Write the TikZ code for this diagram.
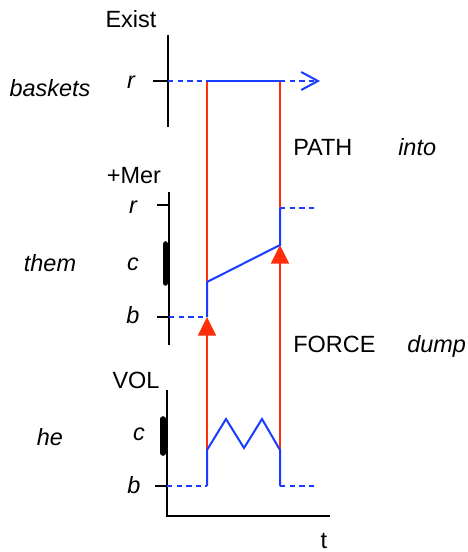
\documentclass[tikz,border=0pt]{standalone}
\usepackage{fontspec}
\setmainfont{Liberation Sans}
\usetikzlibrary{arrows.meta,positioning,calc}
\definecolor{stateblue}{RGB}{25,60,255}
\definecolor{forcered}{RGB}{255,45,10}
\tikzset{
  axis/.style={draw=black, line width=1.5pt},
  tickmark/.style={draw=black, line width=1.5pt},
  cbar/.style={draw=black, line width=4.2pt, line cap=round},
  state/.style={draw=stateblue, line width=1.5pt},
  idle/.style={draw=stateblue, line width=1.5pt, dash pattern=on 4pt off 3.2pt},
  force/.style={draw=forcered, line width=1.4pt},
  push/.style={force, -{Triangle[length=14pt, width=13.5pt]}},
  lbl/.style={inner sep=0pt, anchor=base, font=\fontsize{17.6}{20}\selectfont},
  val/.style={lbl, font=\fontsize{17.6}{20}\selectfont\itshape}
}

\begin{document}
\begin{tikzpicture}[x=0.75pt, y=-0.75pt]
      \useasboundingbox (0,0) rectangle (467,552);
      % row labels
      \node[val] (baskets) at (50,97) {baskets};
      \node[val] (them) at (50,271) {them};
      \node[val] (he) at (50,445) {he};
      % Exist
      \node[lbl] (exist) at (131,28) {Exist};
      \node[val] (ex-r) at (131,89) {r};
      \coordinate (ex-top) at (168,35);
      \coordinate (ex-bot) at (168,127);
      \coordinate (ex-rt) at (153,81);
      \coordinate (ex-r0) at (168,81);
      \draw[axis] (ex-top) -- (ex-bot);
      \draw[tickmark] (ex-rt) -- (ex-r0);
      % +Mer
      \node[lbl] (mer) at (134,184) {+Mer};
      \node[val] (mer-r) at (133,213) {r};
      \node[val] (mer-c) at (133,270) {c};
      \node[val] (mer-b) at (133,323) {b};
      \coordinate (mer-top) at (169,192);
      \coordinate (mer-bot) at (169,345);
      \draw[axis] (mer-top) -- (mer-bot);
      \draw[tickmark] (157,205) -- (169,205);
      \draw[tickmark] (157,317) -- (169,317);
      \draw[cbar] (165.5,244) -- (165.5,283);
      % VOL
      \node[lbl] (vol) at (136,388) {VOL};
      \node[val] (vol-c) at (139,440) {c};
      \node[val] (vol-b) at (134,493) {b};
      \node[lbl] (time) at (324,548) {t};
      \coordinate (vol-top) at (167,390);
      \coordinate (origin) at (167,516);
      \coordinate (t-end) at (330,516);
      \draw[axis] (vol-top) -- (origin) -- (t-end);
      \draw[tickmark] (155,486) -- (167,486);
      \draw[cbar] (163,419) -- (163,453);
      % PATH / FORCE
      \node[lbl, anchor=base west] (path) at (293,156) {PATH};
      \node[val, anchor=base west] (into) at (398,156) {into};
      \node[lbl, anchor=base west] (force) at (293,352) {FORCE};
      \node[val, anchor=base west] (dump) at (407,352) {dump};
      % event points
      \coordinate (a1) at (207,81);
      \coordinate (a2) at (207,282);
      \coordinate (a3) at (207,317);
      \coordinate (a4) at (207,450);
      \coordinate (a5) at (207,486);
      \coordinate (b1) at (280,81);
      \coordinate (b2) at (280,208);
      \coordinate (b3) at (280,245);
      \coordinate (b4) at (280,450);
      \coordinate (b5) at (280,486);
      % red transitions
      \draw[force] (a1) -- (a2);
      \draw[force] (b1) -- (b2);
      \draw[push] (a4) -- (a3);
      \draw[push] (b4) -- (b3);
      % blue paths
      \draw[idle] (ex-r0) -- (a1);
      \draw[state] (a1) -- (b1);
      \draw[idle, -{Straight Barb[length=12.5pt, width=13.5pt]}] (b1) -- (320,81);
      \draw[idle] (169,317) -- (a3);
      \draw[state] (a3) -- (a2) -- (b3) -- (b2);
      \draw[idle] (b2) -- (317,208);
      \draw[idle] (167,486) -- (a5);
      \draw[state] (a5) -- (a4) -- (226,419) -- (244,448) -- (262,419) -- (b4) -- (b5);
      \draw[idle] (b5) -- (317,486);
    \end{tikzpicture}
\end{document}
